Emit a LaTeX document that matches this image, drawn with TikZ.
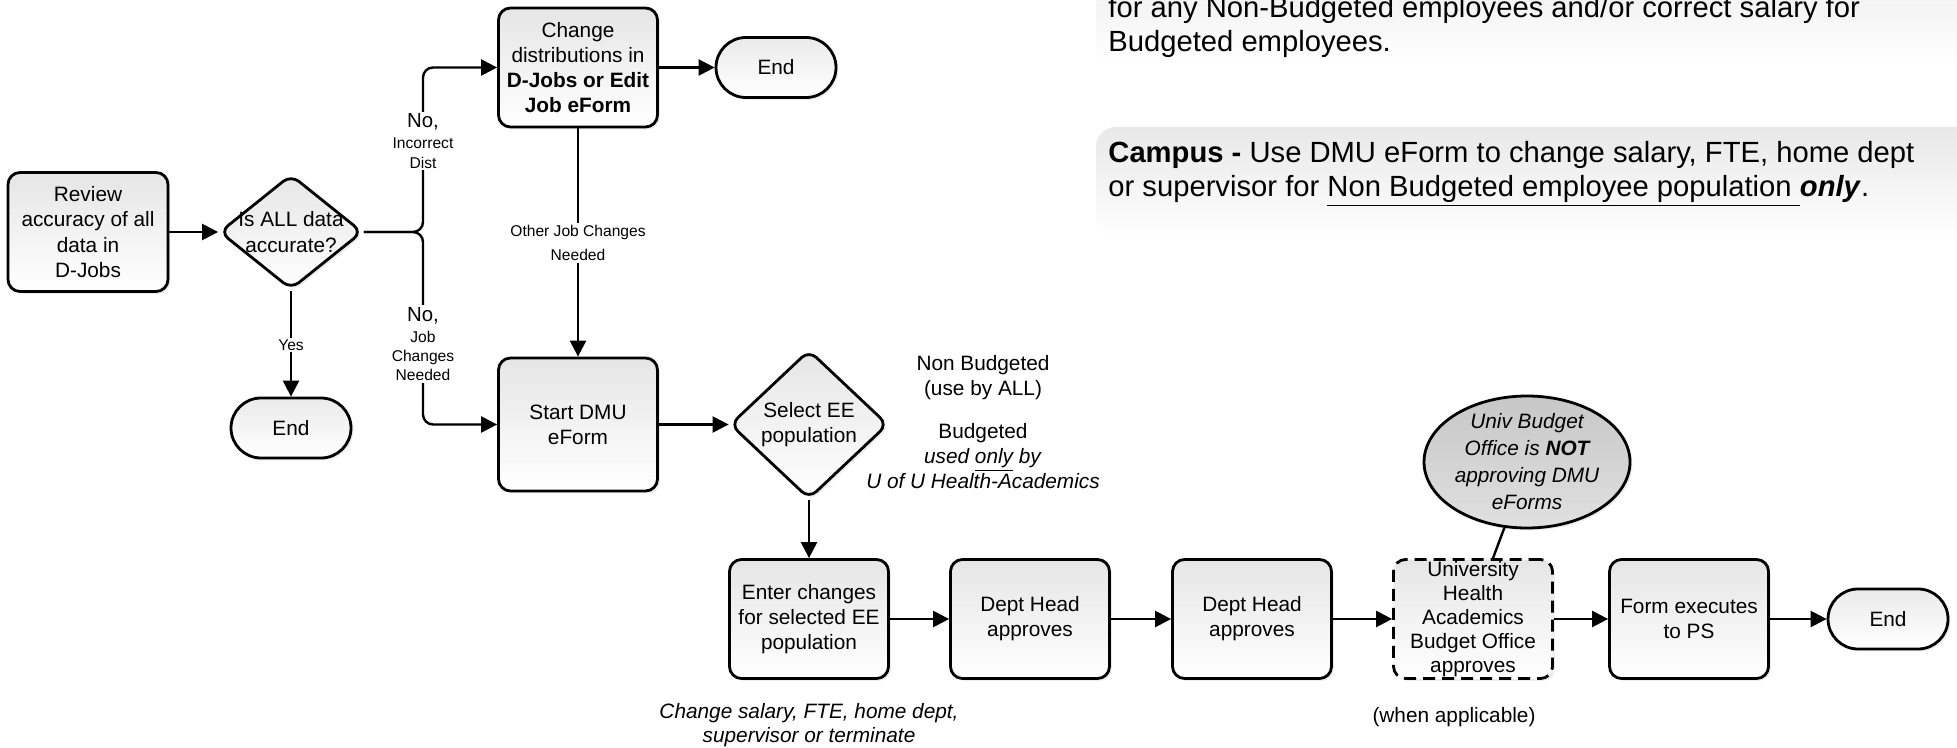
\documentclass[tikz,border=0pt]{standalone}
\usepackage{fontspec}
\setmainfont{Liberation Sans}
\usepackage{tikz}
\usetikzlibrary{arrows.meta,calc,positioning,shapes.geometric,shapes.misc,shadows}

\newcommand{\boxfont}{\fontsize{10.4}{12.6}\selectfont}
\newcommand{\lblfont}{\fontsize{7.8}{9.6}\selectfont}
\newcommand{\notefont}{\fontsize{14.6}{17}\selectfont}

\tikzset{
  softshadow/.style={drop shadow={opacity=0.15,shadow xshift=1.2pt,shadow yshift=-1.2pt}},
  procbox/.style={draw, line width=1.4pt, rounded corners=6pt,
    top color=black!10, bottom color=white, softshadow,
    minimum width=79.5pt, minimum height=59.5pt, inner sep=1pt,
    align=center, font=\boxfont},
  decision/.style={diamond, draw, line width=1.4pt, rounded corners=5pt,
    top color=black!10, bottom color=white, softshadow, inner sep=0pt},
  terminal/.style={rounded rectangle, draw, line width=1.4pt,
    top color=black!8, bottom color=white, softshadow,
    minimum width=60pt, minimum height=30pt, inner sep=0pt, font=\boxfont},
  flow/.style={line width=1.2pt, -{Triangle[length=8pt,width=8pt]}},
  brlabel/.style={fill=white, inner sep=1pt, align=center, font=\lblfont},
}

\begin{document}
\begin{tikzpicture}[x=0.5pt, y=-0.5pt]
\useasboundingbox (0,0) rectangle (1957,748);

% text panels on the right
\path[top color=black!9, bottom color=white] (1096,-60) rectangle (1990,62);
\path[top color=black!9, bottom color=white, rounded corners=10pt] (1096,127) rectangle (1990,237);
\node[anchor=west, inner sep=0pt, align=left, font=\notefont] (budnote) at (1108,27)
  {for any Non-Budgeted employees and/or correct salary for\\Budgeted employees.};
\node[anchor=west, inner sep=0pt, align=left, font=\notefont] (campus) at (1108,173.5)
  {\textbf{Campus -} Use DMU eForm to change salary, FTE, home dept\\or supervisor for \underline{Non Budgeted employee population }\textbf{\textit{only}}.};

% main flow
\node[procbox, minimum width=80pt] (review) at (88,232) {Review\\accuracy of all\\data in\\D-Jobs};
\node[decision, minimum width=71.5pt, minimum height=57.5pt] (acc) at (291,232) {};
\node[font=\boxfont, align=center, inner sep=0pt] (acc-txt) at (acc) {Is ALL data\\accurate?};
\node[terminal] (end-yes) at (291,428) {End};
\node[procbox] (chg) at (578,67.5) {Change\\distributions in\\\textbf{D-Jobs or Edit}\\\textbf{Job eForm}};
\node[terminal] (end-dist) at (776,67.5) {End};
\node[procbox, minimum height=66.5pt] (start) at (578,424.5) {Start DMU\\eForm};
\node[decision, minimum width=79pt, minimum height=74.5pt] (sel) at (809,424.5) {};
\node[font=\boxfont, align=center, inner sep=0pt] (sel-txt) at (sel) {Select EE\\population};
\node[font=\boxfont, align=center, inner sep=0pt] (pop) at (983,422)
  {Non Budgeted\\(use by ALL)\\[9pt]Budgeted\\\textit{used \underline{only} by}\\\textit{U of U Health-Academics}};

% approval row
\node[procbox] (enter) at (809,619) {Enter changes\\for selected EE\\population};
\node[procbox] (head1) at (1030,619) {Dept Head\\approves};
\node[procbox] (head2) at (1252,619) {Dept Head\\approves};
\node[procbox, dashed, dash pattern=on 6pt off 3.5pt, inner sep=0pt,
  font=\fontsize{10.4}{12}\selectfont] (uni) at (1473,619)
  {University\\Health\\Academics\\Budget Office\\approves};
\node[procbox] (exec) at (1689,619) {Form executes\\to PS};
\node[terminal] (end-ps) at (1888,619) {End};
\node[ellipse, draw, line width=1.4pt, top color=black!22, bottom color=black!12, softshadow,
  minimum width=103pt, minimum height=66pt, inner sep=-2pt, align=center,
  font=\fontsize{10.4}{13.5}\selectfont\itshape] (ubo) at (1527,462)
  {Univ Budget\\Office is \textbf{NOT}\\approving DMU\\eForms};
\node[font=\fontsize{10.4}{12}\selectfont\itshape, align=center] (chg-note) at (809,725)
  {Change salary, FTE, home dept,\\supervisor or terminate};
\node[font=\boxfont] (when) at (1454,717) {(when applicable)};

% connectors
\coordinate (fork) at (423,232);
\draw[flow] (review) -- (acc);
\draw[flow, rounded corners=5pt] (acc.east) -- (fork) |- (chg.west);
\draw[flow, rounded corners=5pt] (acc.east) -- (fork) |- (start.west);
\draw[flow] (acc) -- (end-yes);
\draw[flow] (chg) -- (end-dist);
\draw[flow] (chg) -- (start);
\draw[flow] (start) -- (sel);
\draw[flow] (sel) -- (enter);
\draw[flow] (enter) -- (head1);
\draw[flow] (head1) -- (head2);
\draw[flow] (head2) -- (uni);
\draw[flow] (uni) -- (exec);
\draw[flow] (exec) -- (end-ps);
\draw[line width=1.2pt] (ubo.-109) -- ($(uni.north)+(20,0)$);

% connector labels
\node[brlabel] (no-dist) at (423,141) {{\fontsize{10.2}{12}\selectfont No,}\\[1pt]Incorrect\\Dist};
\node[brlabel] (no-job) at (423,344) {{\fontsize{10.2}{12}\selectfont No,}\\[1pt]Job\\Changes\\Needed};
\node[brlabel] (yes) at (291,345) {Yes};
\node[brlabel, font=\fontsize{7.8}{12}\selectfont] (other-job) at (578,243) {Other Job Changes\\Needed};
\end{tikzpicture}
\end{document}
